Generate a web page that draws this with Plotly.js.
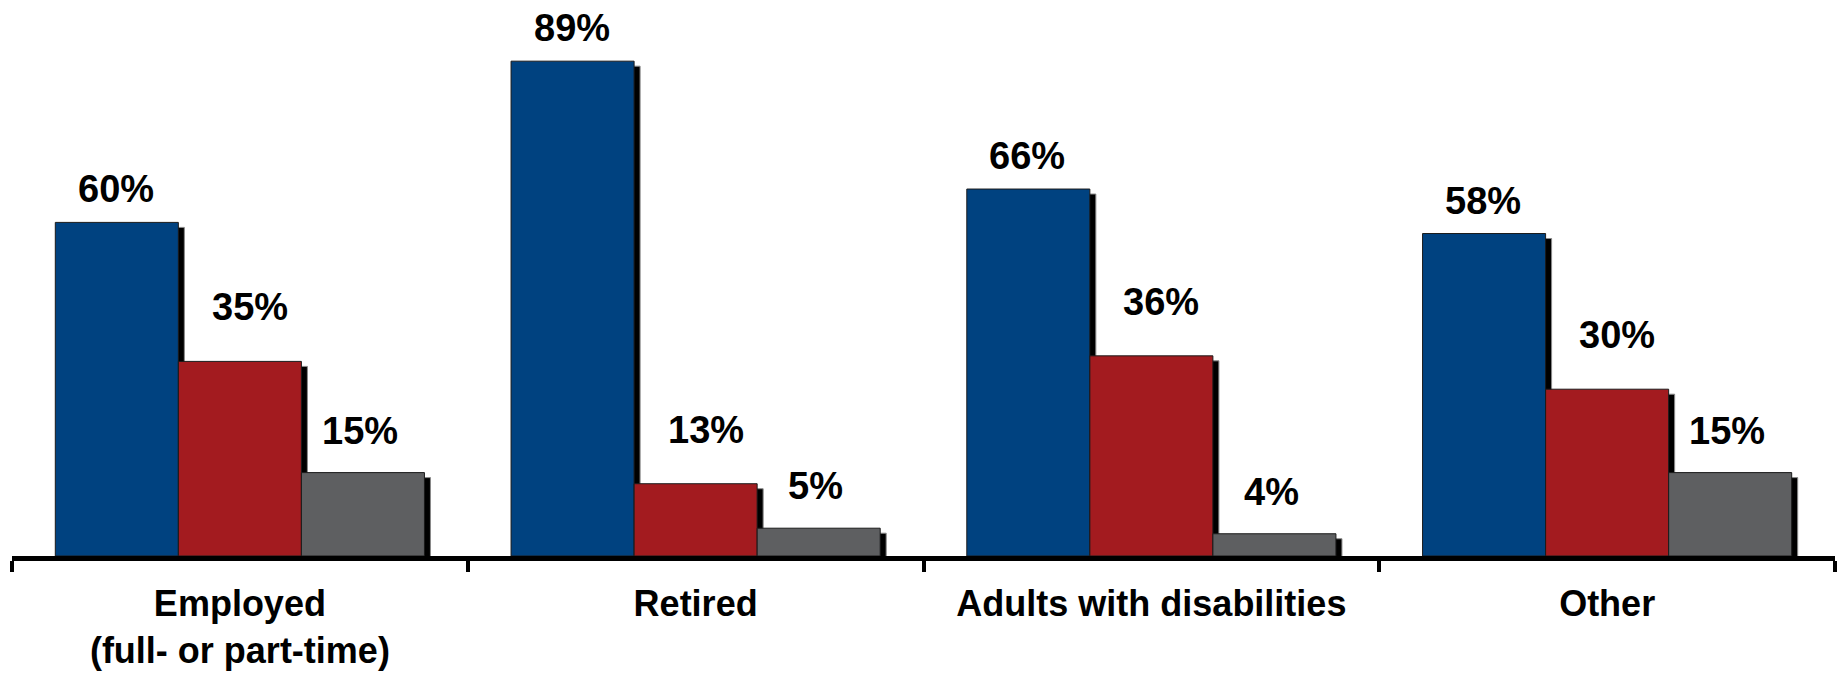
<!DOCTYPE html>
<html>
<head>
<meta charset="utf-8">
<script src="https://cdn.plot.ly/plotly-3.0.1.min.js"></script>
<style>
  html, body { margin: 0; padding: 0; background: #ffffff; }
  #chart { width: 1839px; height: 675px; }
</style>
</head>
<body>
<div id="chart"></div>
<script>
// ---- data ----
const categories = ['Employed<br>(full- or part-time)', 'Retired', 'Adults with disabilities', 'Other'];
const seriesNames = ['Series 1', 'Series 2', 'Series 3'];
const series1 = [60, 89, 66, 58];
const series2 = [35, 13, 36, 30];
const series3 = [15, 5, 4, 15];

// ---- styling / layout constants ----
const W = 1839, H = 675;
const M = { l: 12, r: 4, t: 0, b: 119 };
const Y_MAX = 100;
const BARGAP = 0.19;
const colors = ['rgb(0,66,128)', 'rgb(163,27,31)', 'rgb(94,95,97)'];
const SHADOW_DX = 6;   // px right
const SHADOW_DY = 5;   // px down
const labelGap = [19, 40, 28];   // px between bar top and label baseline
const labelDX = [-1, 10, -3];    // px horizontal nudge per series
const FONT = 'Liberation Sans, Arial, Helvetica, sans-serif';

const plotW = W - M.l - M.r;
const plotH = H - M.t - M.b;
const nCat = categories.length;
const catPx = plotW / nCat;
const pxPerUnit = plotH / Y_MAX;
const barPx = catPx * (1 - BARGAP) / 3;
const dxCat = SHADOW_DX / catPx;
const dyVal = SHADOW_DY / pxPerUnit;

const allSeries = [series1, series2, series3];

const traces = [];
// shadows (drawn underneath, on base axes with shifted ranges)
allSeries.forEach((vals, k) => {
  traces.push({
    type: 'bar', x: categories, y: vals, name: seriesNames[k] + ' shadow',
    xaxis: 'x', yaxis: 'y',
    marker: { color: '#000000', line: { color: '#8a8a8a', width: 1 } },
    hoverinfo: 'skip', showlegend: false
  });
});
// real bars
allSeries.forEach((vals, k) => {
  traces.push({
    type: 'bar', x: categories, y: vals, name: seriesNames[k],
    xaxis: 'x2', yaxis: 'y2',
    marker: { color: colors[k], line: { color: '#1b1b1b', width: 1 } },
    showlegend: false
  });
});

const annotations = [];
allSeries.forEach((vals, k) => {
  vals.forEach((v, i) => {
    annotations.push({
      xref: 'x2', yref: 'y2', x: categories[i], y: v,
      text: v + '%', showarrow: false,
      xanchor: 'center', yanchor: 'bottom',
      xshift: (k - 1) * barPx + labelDX[k],
      yshift: labelGap[k] - 9,
      font: { family: FONT, size: 38, color: '#000000', weight: 'bold' }
    });
  });
});

const layout = {
  width: W, height: H,
  margin: M,
  paper_bgcolor: '#ffffff', plot_bgcolor: 'rgba(0,0,0,0)',
  barmode: 'group', bargap: BARGAP, bargroupgap: 0,
  showlegend: false,
  xaxis: {
    type: 'category', range: [-0.5 - dxCat, nCat - 0.5 - dxCat],
    visible: false, fixedrange: true
  },
  yaxis: {
    range: [dyVal, Y_MAX + dyVal], visible: false, fixedrange: true
  },
  xaxis2: {
    type: 'category', overlaying: 'x', anchor: 'y2',
    range: [-0.5, nCat - 0.5],
    showline: true, linewidth: 5, linecolor: '#000000',
    ticks: 'outside', tickson: 'boundaries', ticklen: 11, tickwidth: 4, tickcolor: '#000000',
    ticklabelstandoff: 12,
    showgrid: false, zeroline: false,
    tickfont: { family: FONT, size: 36, color: '#000000', weight: 'bold' },
    fixedrange: true
  },
  yaxis2: {
    overlaying: 'y', anchor: 'x2', range: [0, Y_MAX],
    visible: false, showgrid: false, zeroline: false, fixedrange: true
  },
  annotations: annotations
};

Plotly.newPlot('chart', traces, layout, { displayModeBar: false, staticPlot: true });
</script>
</body>
</html>
